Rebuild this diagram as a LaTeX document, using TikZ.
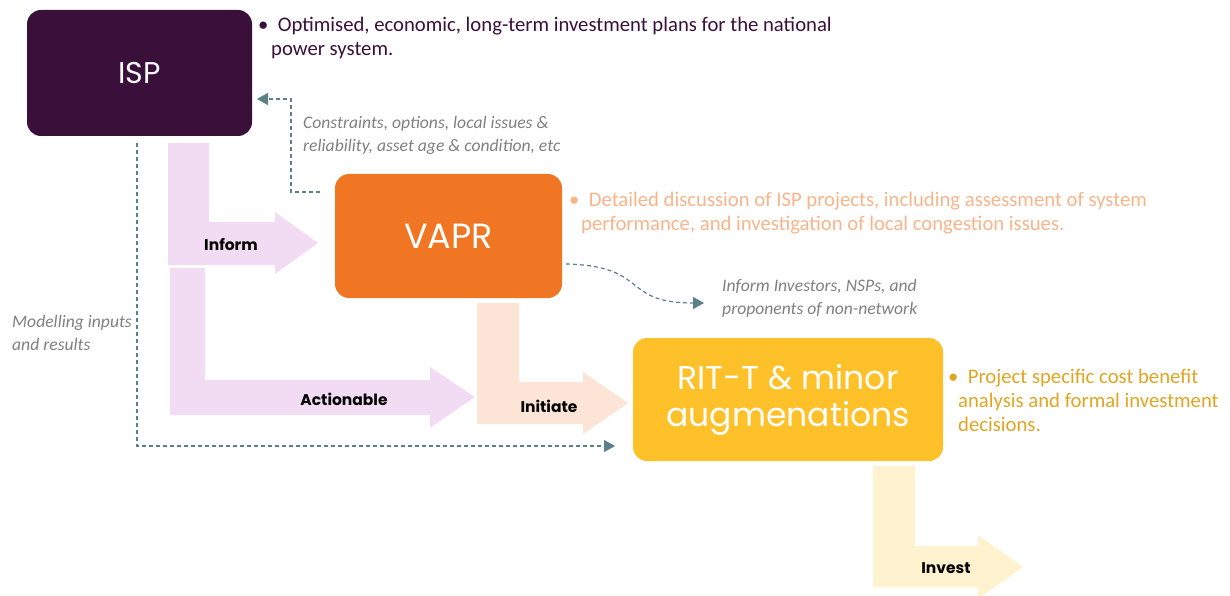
\documentclass[tikz,border=0pt]{standalone}
\usepackage{fontspec}
\setmainfont{Carlito}
\newfontfamily\gothic{Poppins}
\usetikzlibrary{arrows.meta}
\definecolor{ispc}{HTML}{3A0F3A}
\definecolor{vaprc}{HTML}{F07623}
\definecolor{ritc}{HTML}{FEC12A}
\definecolor{pinkc}{HTML}{F2DCF4}
\definecolor{peachc}{HTML}{FCE4D6}
\definecolor{creamc}{HTML}{FFF2CF}
\definecolor{vapnote}{HTML}{F9B48A}
\definecolor{ritnote}{HTML}{E0A522}
\definecolor{notec}{HTML}{808080}
\definecolor{connc}{HTML}{5B8088}
\begin{document}
\begin{tikzpicture}[x=1pt,y=-1pt,
  box/.style={rounded corners=14pt, inner sep=0pt, text=white, align=center},
  lbl/.style={font=\gothic\bfseries\fontsize{15.5}{18}\selectfont, text=black, inner sep=0pt},
  note/.style={font=\itshape\fontsize{17.6}{23.5}\selectfont, text=notec, align=left, anchor=north west, inner sep=0pt},
  bullet/.style={font=\fontsize{20.7}{24}\selectfont, align=left, anchor=north west, inner sep=0pt},
  conn/.style={draw=connc, line width=1.2pt, dash pattern=on 4pt off 3pt, -{Triangle[length=11pt,width=12pt]}}
]
\useasboundingbox (0,0) rectangle (1230,596);
% fat arrows
\fill[pinkc] (168,143) -- (209,143) -- (209,222) -- (275,222) -- (275,212) -- (318,243) -- (275,274) -- (275,265) -- (168,265) -- cycle;
\fill[pinkc] (170,268) -- (205,268) -- (205,380) -- (430,380) -- (430,367) -- (475,397) -- (430,428) -- (430,415) -- (170,415) -- cycle;
\fill[peachc] (477,303) -- (519,303) -- (519,382) -- (583,382) -- (583,372) -- (628,403) -- (583,434) -- (583,424) -- (477,424) -- cycle;
\fill[creamc] (873,466) -- (915,466) -- (915,546) -- (978,546) -- (978,535) -- (1023,567) -- (978,599) -- (978,587) -- (873,587) -- cycle;
% boxes
\node[box, fill=ispc, minimum width=225pt, minimum height=126pt, font=\gothic\fontsize{30}{36}\selectfont] (isp) at (139.5,73) {ISP};
\node[box, fill=vaprc, minimum width=227pt, minimum height=124pt, font=\gothic\fontsize{35}{40}\selectfont] (vapr) at (448.5,236) {VAPR};
\node[box, fill=ritc, minimum width=310pt, minimum height=123pt, font=\gothic\fontsize{33}{37}\selectfont] (rit) at (788,399.5) {RIT-T \& minor\\augmenations};
% arrow labels
\node[lbl] (linform) at (231,244) {Inform};
\node[lbl] (lact) at (344,399) {Actionable};
\node[lbl] (linit) at (549,406) {Initiate};
\node[lbl] (linv) at (946,568) {Invest};
% bullet texts
\node[bullet, text=ispc] (tisp) at (258,14.5) {\strut\textbullet\ \ Optimised, economic, long-term investment plans for the national\\\hspace*{13pt}power system.};
\node[bullet, text=vapnote] (tvapr) at (569,189) {\strut\textbullet\ \ Detailed discussion of ISP projects, including assessment of system\\\hspace*{12pt}performance, and investigation of local congestion issues.};
\node[bullet, text=ritnote] (trit) at (948,366) {\strut\textbullet\ \ Project specific cost benefit\\\hspace*{10pt}analysis and formal investment\\\hspace*{10pt}decisions.};
% notes
\node[note] (ncons) at (303,111.5) {\strut Constraints, options, local issues \&\\reliability, asset age \& condition, etc};
\node[note] (nmod) at (12,310.5) {\strut Modelling inputs\\and results};
\node[note] (ninv) at (722,274.5) {\strut Inform Investors, NSPs, and\\proponents of non-network};
% dashed connectors
\coordinate (c1) at (320,192);
\coordinate (c2) at (291,99);
\coordinate (c3) at (257,99);
\draw[conn] (c1) -| (c2) -- (c3);
\coordinate (d1) at (137,143);
\coordinate (d2) at (615,446);
\draw[conn] (d1) |- (d2);
\coordinate (e1) at (566,264);
\coordinate (e2) at (704,303);
\draw[conn] (e1) .. controls (650,266) and (620,303) .. (e2);
\end{tikzpicture}
\end{document}
